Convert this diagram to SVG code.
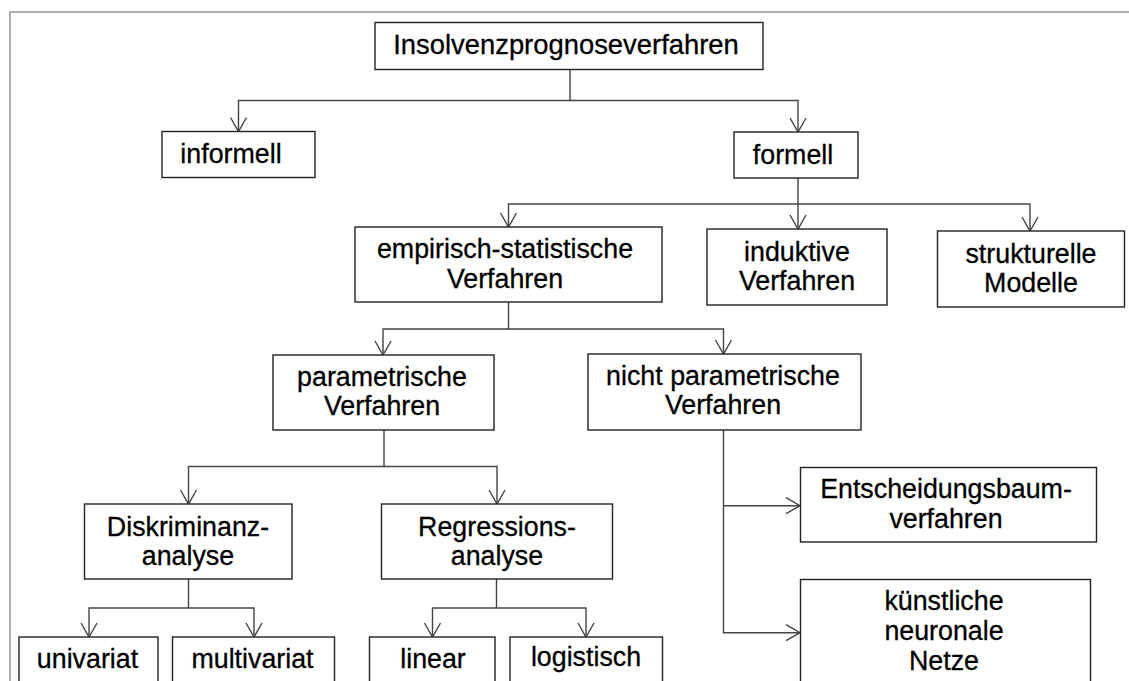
<svg xmlns="http://www.w3.org/2000/svg" width="1129" height="681" viewBox="0 0 1129 681">
<defs>
<style>
.box{fill:#fff;stroke:#222;stroke-width:1.4}
.t{font-family:"Liberation Sans",Arial,sans-serif;font-size:26.8px;fill:#000;stroke:#000;stroke-width:0.3;text-anchor:middle}
.c{fill:none;stroke:#444;stroke-width:1.4}
.frame{fill:none;stroke:#999;stroke-width:1.6}
</style>
<marker id="arr" viewBox="0 0 16 18" refX="14.5" refY="9" markerWidth="16" markerHeight="18" markerUnits="userSpaceOnUse" orient="auto" overflow="visible">
<path d="M0.5,1 L14.5,9 L0.5,17" fill="none" stroke="#444" stroke-width="1.4"/>
</marker>
</defs>
<rect width="1129" height="681" fill="#fff"/>
<rect class="frame" x="10" y="12" width="1300" height="900"/>
<g id="connectors">
<path class="c" d="M570,69 V100.5 H238.5 V131.5" marker-end="url(#arr)"/>
<path class="c" d="M570,100.5 H798 V132" marker-end="url(#arr)"/>
<path class="c" d="M798,178 V204 H508.5 V227" marker-end="url(#arr)"/>
<path class="c" d="M798,204 V229" marker-end="url(#arr)"/>
<path class="c" d="M798,204 H1030 V231" marker-end="url(#arr)"/>
<path class="c" d="M508.5,302 V329 H383 V355" marker-end="url(#arr)"/>
<path class="c" d="M508.5,329 H723.5 V354" marker-end="url(#arr)"/>
<path class="c" d="M384,430 V466.5 H188.5 V504" marker-end="url(#arr)"/>
<path class="c" d="M384,466.5 H497 V504" marker-end="url(#arr)"/>
<path class="c" d="M188.5,579 V608 H89 V637" marker-end="url(#arr)"/>
<path class="c" d="M188.5,608 H254 V637" marker-end="url(#arr)"/>
<path class="c" d="M496.5,579 V608 H432.5 V637" marker-end="url(#arr)"/>
<path class="c" d="M496.5,608 H586 V637" marker-end="url(#arr)"/>
<path class="c" d="M723.5,430 V632.7 H800" marker-end="url(#arr)"/>
<path class="c" d="M723.5,505.7 H800" marker-end="url(#arr)"/>
</g>
<g id="n-root"><rect class="box" x="375" y="22.5" width="388" height="47"/><text class="t" x="566" y="54" style="font-size:27.4px">Insolvenzprognoseverfahren</text></g>
<g id="n-informell"><rect class="box" x="162" y="131.5" width="153" height="46"/><text class="t" x="231" y="162.5">informell</text></g>
<g id="n-formell"><rect class="box" x="734" y="132" width="124" height="46"/><text class="t" x="793" y="163.5">formell</text></g>
<g id="n-empirisch"><rect class="box" x="355" y="227" width="307" height="75"/><text class="t" x="505" y="257.5">empirisch-statistische</text><text class="t" x="505" y="287.5">Verfahren</text></g>
<g id="n-induktive"><rect class="box" x="707" y="229" width="180" height="76"/><text class="t" x="797" y="260.5">induktive</text><text class="t" x="797" y="290">Verfahren</text></g>
<g id="n-strukturelle"><rect class="box" x="937.5" y="231" width="187" height="76"/><text class="t" x="1031" y="262.5">strukturelle</text><text class="t" x="1031" y="292">Modelle</text></g>
<g id="n-parametrisch"><rect class="box" x="273" y="355" width="221" height="75"/><text class="t" x="382" y="386">parametrische</text><text class="t" x="382" y="415">Verfahren</text></g>
<g id="n-nichtparametrisch"><rect class="box" x="588" y="354" width="273" height="76"/><text class="t" x="723" y="385">nicht parametrische</text><text class="t" x="723" y="414">Verfahren</text></g>
<g id="n-diskriminanz"><rect class="box" x="84.5" y="504" width="207.5" height="75"/><text class="t" x="188" y="536">Diskriminanz-</text><text class="t" x="188" y="565">analyse</text></g>
<g id="n-regression"><rect class="box" x="381.5" y="504" width="231" height="75"/><text class="t" x="497" y="536">Regressions-</text><text class="t" x="497" y="565">analyse</text></g>
<g id="n-entscheidung"><rect class="box" x="800.5" y="467.5" width="296" height="74.5"/><text class="t" x="946" y="498">Entscheidungsbaum-</text><text class="t" x="946" y="528">verfahren</text></g>
<g id="n-knn"><rect class="box" x="800.5" y="579.5" width="290" height="130"/><text class="t" x="944" y="610">künstliche</text><text class="t" x="944" y="639.5">neuronale</text><text class="t" x="944" y="669.5">Netze</text></g>
<g id="n-univariat"><rect class="box" x="19" y="637" width="139" height="70"/><text class="t" x="87.5" y="667.5">univariat</text></g>
<g id="n-multivariat"><rect class="box" x="172.5" y="637" width="162" height="70"/><text class="t" x="252.5" y="667.5">multivariat</text></g>
<g id="n-linear"><rect class="box" x="369.5" y="637" width="125.5" height="70"/><text class="t" x="433" y="667.5">linear</text></g>
<g id="n-logistisch"><rect class="box" x="510" y="637" width="152.5" height="70"/><text class="t" x="586" y="666">logistisch</text></g>
</svg>
